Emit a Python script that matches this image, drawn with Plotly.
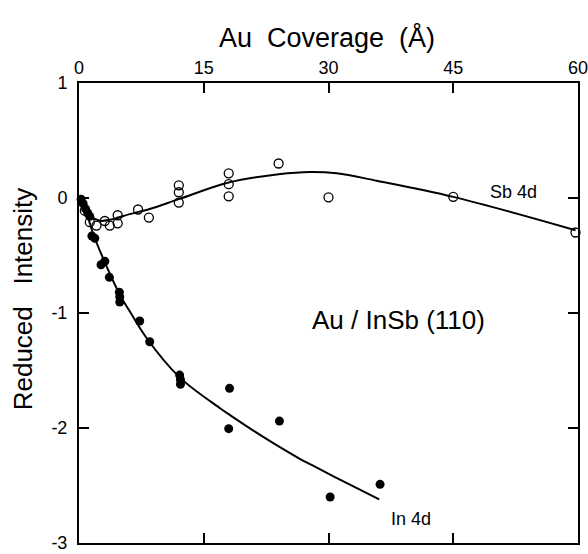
import plotly.graph_objects as go

# Sb 4d data (open circles)
sb_x = [0.7, 1.3, 2.1, 3.1, 3.7, 4.65, 4.65, 7.1, 8.4, 12, 12, 12, 18, 18, 18, 24, 30, 45, 59.7]
sb_y = [-0.11, -0.21, -0.24, -0.20, -0.24, -0.15, -0.22, -0.10, -0.17, 0.11, 0.05, -0.04,
        0.215, 0.12, 0.015, 0.30, 0.006, 0.01, -0.30]

# In 4d data (filled circles)
in_x = [0.25, 0.5, 0.8, 1.05, 1.3, 1.55, 1.9, 2.65, 3.1, 3.65, 4.85, 4.9, 4.9, 7.3, 8.5,
        12.1, 12.2, 12.2, 18.1, 18.0, 24.1, 30.2, 36.2]
in_y = [-0.01, -0.05, -0.095, -0.13, -0.16, -0.33, -0.35, -0.58, -0.55, -0.69, -0.82, -0.86,
        -0.905, -1.07, -1.25, -1.54, -1.58, -1.62, -1.655, -2.006, -1.94, -2.60, -2.49]

# Fitted curves
sb_fit_x = [0, 0.7, 1.5, 2.5, 3.7, 4.7, 6.1, 8.5, 12, 18, 24, 27.8, 31, 35.8, 45, 59.7]
sb_fit_y = [0, -0.095, -0.164, -0.198, -0.19, -0.17, -0.14, -0.095, -0.01, 0.135, 0.207,
            0.227, 0.215, 0.15, 0.01, -0.28]
in_fit_x = [0, 0.25, 0.85, 1.3, 1.9, 4.9, 6.1, 8.1, 12.1, 17.0, 18.2, 22.2, 26.6, 28.2, 30.6, 36.1]
in_fit_y = [0, -0.035, -0.11, -0.22, -0.35, -0.84, -0.985, -1.215, -1.56, -1.83, -1.89,
            -2.08, -2.27, -2.33, -2.42, -2.62]

x_ticks = [0, 15, 30, 45, 60]
y_ticks = [-3, -2, -1, 0, 1]
y_ticktext = ["-3", "-2", "-1", "0", "1"]

FONT = "Liberation Sans"

fig = go.Figure()
fig.add_trace(go.Scatter(x=sb_fit_x, y=sb_fit_y, mode="lines", line=dict(color="black", width=2, shape="spline", smoothing=1.0),
                         showlegend=False, hoverinfo="skip", cliponaxis=False))
fig.add_trace(go.Scatter(x=in_fit_x, y=in_fit_y, mode="lines", line=dict(color="black", width=2, shape="spline", smoothing=1.0),
                         showlegend=False, hoverinfo="skip", cliponaxis=False))
fig.add_trace(go.Scatter(x=sb_x, y=sb_y, mode="markers",
                         marker=dict(symbol="circle-open", size=9, color="black", line=dict(width=1.3)),
                         showlegend=False, cliponaxis=False))
fig.add_trace(go.Scatter(x=in_x, y=in_y, mode="markers",
                         marker=dict(symbol="circle", size=9, color="black"),
                         showlegend=False, cliponaxis=False))

axis_common = dict(showgrid=False, zeroline=False, showline=True, linecolor="black", linewidth=2,
                   ticks="inside", ticklen=10, tickwidth=1.5, tickcolor="black", mirror="ticks",
                   ticklabeloverflow="allow", automargin=False,
                   tickfont=dict(family=FONT, size=18, color="black"))

fig.update_xaxes(range=[0, 60], tickvals=x_ticks, ticktext=[str(v) for v in x_ticks], side="top", **axis_common)
fig.update_yaxes(range=[-3, 1], tickvals=y_ticks, ticktext=y_ticktext, ticklabelstandoff=6, **axis_common)

fig.add_annotation(text="Au  Coverage  (Å)", xref="paper", yref="paper", x=0.497, y=1.098,
                   showarrow=False, font=dict(family=FONT, size=27, color="black"), xanchor="center", yanchor="middle")
fig.add_annotation(text="Reduced   Intensity", xref="paper", yref="paper", x=-0.112, y=0.530, textangle=-90,
                   showarrow=False, font=dict(family=FONT, size=26, color="black"), xanchor="center", yanchor="middle")
fig.add_annotation(text="Au / InSb (110)", x=38.4, y=-1.06, showarrow=False,
                   font=dict(family=FONT, size=26, color="black"), xanchor="center", yanchor="middle")
fig.add_annotation(text="Sb 4d", x=52.2, y=0.05, showarrow=False,
                   font=dict(family=FONT, size=18, color="black"), xanchor="center", yanchor="middle")
fig.add_annotation(text="In 4d", x=39.9, y=-2.79, showarrow=False,
                   font=dict(family=FONT, size=18, color="black"), xanchor="center", yanchor="middle")

fig.update_layout(width=588, height=554, margin=dict(l=79, r=10, t=83, b=11),
                  paper_bgcolor="white", plot_bgcolor="white")

fig.write_html("out.html")
